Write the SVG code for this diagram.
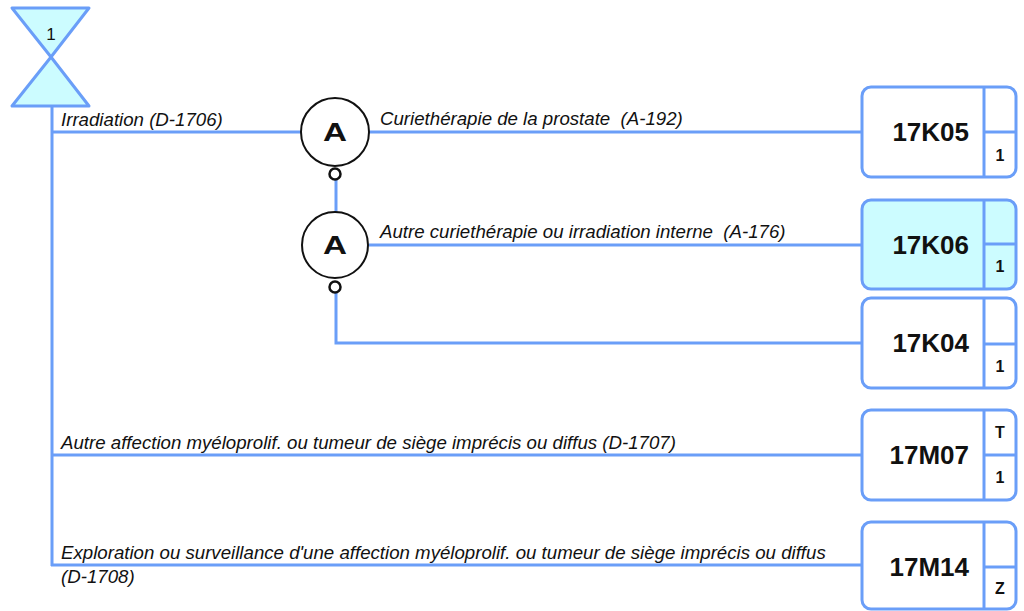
<svg xmlns="http://www.w3.org/2000/svg" width="1024" height="611" viewBox="0 0 1024 611">
<style>
.ln{stroke:#6a9ef8;stroke-width:3;fill:none}
.box{stroke:#6a9ef8;stroke-width:3;fill:#ffffff}
.sel{fill:#ccfcff}
.lbl{font-family:"Liberation Sans",Arial,sans-serif;font-style:italic;font-size:18.67px;fill:#111;white-space:pre}
.code{font-family:"Liberation Sans",Arial,sans-serif;font-weight:bold;font-size:26px;fill:#111;text-anchor:end}
.small{font-family:"Liberation Sans",Arial,sans-serif;font-weight:bold;font-size:16px;fill:#111;text-anchor:middle}
.circ{stroke:#111;stroke-width:2;fill:#fff}
.dot{stroke:#111;stroke-width:2.5;fill:#fff}
.aa{font-family:"Liberation Sans",Arial,sans-serif;font-weight:bold;font-size:25px;fill:#111;text-anchor:middle}
</style>
<rect width="1024" height="611" fill="#fff"/>
<g id="connectors">
<line class="ln" x1="52" y1="106" x2="52" y2="566"/>
<line class="ln" x1="51" y1="132" x2="301" y2="132"/>
<line class="ln" x1="369" y1="132" x2="862" y2="132"/>
<line class="ln" x1="336" y1="180" x2="336" y2="212"/>
<line class="ln" x1="369" y1="245" x2="862" y2="245"/>
<polyline class="ln" points="336,293 336,343 862,343"/>
<line class="ln" x1="51" y1="455" x2="862" y2="455"/>
<line class="ln" x1="51" y1="565" x2="862" y2="565"/>
</g>
<g id="start">
<polygon points="12,8 89,8 51,57" fill="#ccfcff" stroke="#6a9ef8" stroke-width="3" stroke-linejoin="round"/>
<polygon points="51,57 12,106 89,106" fill="#ccfcff" stroke="#6a9ef8" stroke-width="3" stroke-linejoin="round"/>
<text x="51" y="40" font-family="Liberation Sans, Arial, sans-serif" font-size="17" fill="#111" text-anchor="middle">1</text>
</g>
<g id="labels">
<text class="lbl" x="61" y="126">Irradiation (D-1706)</text>
<text class="lbl" x="380" y="125" xml:space="preserve">Curiethérapie de la prostate  (A-192)</text>
<text class="lbl" x="380" y="238" xml:space="preserve">Autre curiethérapie ou irradiation interne  (A-176)</text>
<text class="lbl" x="61" y="449">Autre affection myéloprolif. ou tumeur de siège imprécis ou diffus (D-1707)</text>
<text class="lbl" x="61" y="559">Exploration ou surveillance d'une affection myéloprolif. ou tumeur de siège imprécis ou diffus</text>
<text class="lbl" x="61" y="583">(D-1708)</text>
</g>
<g id="decision1">
<circle class="circ" cx="335" cy="132" r="34"/>
<text class="aa" x="335" y="141" textLength="24" lengthAdjust="spacingAndGlyphs">A</text>
<circle class="dot" cx="335" cy="174" r="5.5"/>
</g>
<g id="decision2">
<circle class="circ" cx="335" cy="245" r="33"/>
<text class="aa" x="335" y="254" textLength="24" lengthAdjust="spacingAndGlyphs">A</text>
<circle class="dot" cx="335" cy="287" r="5.5"/>
</g>
<g id="n17K05">
<rect class="box" x="862" y="87" width="154" height="90" rx="9"/>
<line class="ln" x1="984" y1="87" x2="984" y2="177"/>
<line class="ln" x1="984" y1="132" x2="1016" y2="132"/>
<text class="code" x="969" y="141">17K05</text>
<text class="small" x="1000" y="161">1</text>
</g>
<g id="n17K06">
<rect class="box sel" x="862" y="200" width="154" height="89" rx="9"/>
<line class="ln" x1="984" y1="200" x2="984" y2="289"/>
<line class="ln" x1="984" y1="244" x2="1016" y2="244"/>
<text class="code" x="969" y="254">17K06</text>
<text class="small" x="1000" y="272">1</text>
</g>
<g id="n17K04">
<rect class="box" x="862" y="298" width="154" height="90" rx="9"/>
<line class="ln" x1="984" y1="298" x2="984" y2="388"/>
<line class="ln" x1="984" y1="344" x2="1016" y2="344"/>
<text class="code" x="969" y="352">17K04</text>
<text class="small" x="1000" y="372">1</text>
</g>
<g id="n17M07">
<rect class="box" x="862" y="410" width="154" height="90" rx="9"/>
<line class="ln" x1="984" y1="410" x2="984" y2="500"/>
<line class="ln" x1="984" y1="455" x2="1016" y2="455"/>
<text class="code" x="969" y="464">17M07</text>
<text class="small" x="1000" y="438">T</text>
<text class="small" x="1000" y="483">1</text>
</g>
<g id="n17M14">
<rect class="box" x="862" y="522" width="154" height="87" rx="9"/>
<line class="ln" x1="984" y1="522" x2="984" y2="609"/>
<line class="ln" x1="984" y1="567" x2="1016" y2="567"/>
<text class="code" x="969" y="576">17M14</text>
<text class="small" x="1000" y="594">Z</text>
</g>
</svg>
